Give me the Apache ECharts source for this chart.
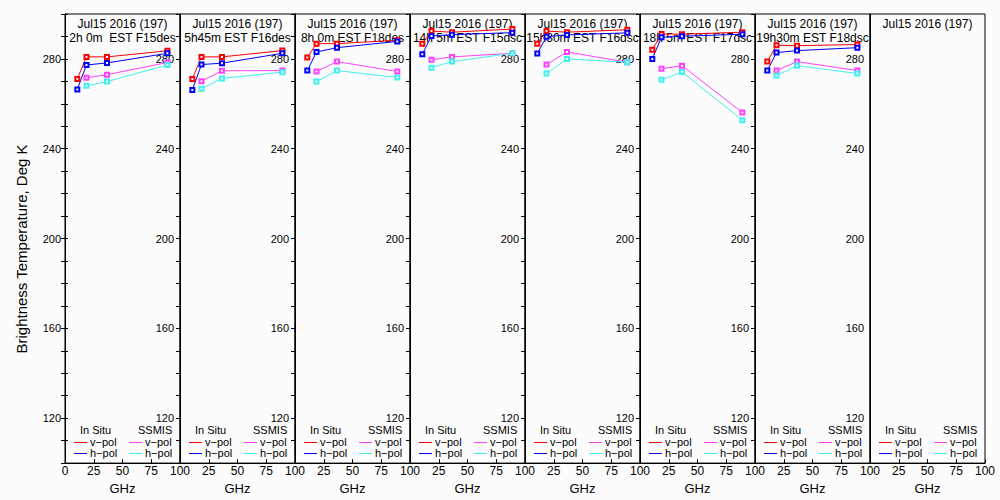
<!DOCTYPE html>
<html>
<head>
<meta charset="utf-8">
<script src="https://cdn.jsdelivr.net/npm/echarts@6/dist/echarts.min.js"></script>
<style>
html,body{margin:0;padding:0;background:#fcfcfc;}
#chart{width:1000px;height:500px;}
</style>
</head>
<body>
<div id="chart"></div>
<script>
// ---- data ----
const inSituFreq = [10.7, 18.7, 36.5, 89.0];
const ssmisFreq = [18.7, 36.5, 89.0];
const dateLabel = 'Jul15 2016 (197)';
const timeLabels = ['2h 0m  EST F15des', '5h45m EST F16des', '8h 0m EST F18des', '14h 5m EST F15dsc',
                    '15h30m EST F16dsc', '18h 5m EST F17dsc', '19h30m EST F18dsc', ''];
const inSituV = [
  [271.1, 280.9, 280.9, 283.6],
  [271.1, 280.9, 280.9, 283.7],
  [280.6, 286.8, 286.8, 288.3],
  [286.8, 292.4, 291.9, 293.3],
  [286.8, 292.4, 291.9, 293.0],
  [284.1, 291.1, 291.0, 291.9],
  [278.8, 286.1, 285.9, 286.4],
  []
];
const inSituH = [
  [266.4, 277.3, 278.2, 282.5],
  [266.2, 277.5, 278.1, 282.5],
  [274.8, 283.1, 285.0, 287.8],
  [282.1, 290.2, 290.8, 291.7],
  [282.4, 289.9, 290.7, 291.6],
  [280.0, 289.6, 290.1, 291.0],
  [274.8, 282.8, 283.7, 285.0],
  []
];
const ssmisV = [
  [271.6, 273.0, 278.4],
  [270.1, 274.7, 274.8],
  [274.4, 278.8, 274.4],
  [279.6, 280.9, 282.5],
  [277.5, 283.1, 278.5],
  [275.6, 277.0, 256.1],
  [274.8, 278.8, 274.8],
  []
];
const ssmisH = [
  [268.0, 269.9, 277.3],
  [266.7, 271.3, 274.1],
  [269.9, 274.8, 271.7],
  [276.1, 278.8, 282.5],
  [273.5, 280.0, 278.5],
  [270.7, 274.2, 252.7],
  [272.6, 277.0, 273.5],
  []
];
const yLabelValues = [120, 160, 200, 240, 280];
const yTickValues = [100, 110, 120, 130, 140, 150, 160, 170, 180, 190, 200, 210, 220, 230, 240, 250, 260, 270, 280, 290, 300];
const seriesColors = {inSituV: '#ff0000', inSituH: '#0000ff', ssmisV: '#ff40ff', ssmisH: '#40f0f0'};

// ---- layout ----
const FONT = '"Liberation Sans", Arial, sans-serif';
const nPanels = 8;
const panelLeft = 65, panelW = 115, panelTop = 14, panelH = 450;

const grids = [], xAxes = [], yAxes = [], series = [], graphics = [];

function pairs(xs, ys) { return ys.map((v, j) => [xs[j], v]); }

for (let i = 0; i < nPanels; i++) {
  const L = panelLeft + panelW * i;
  grids.push({left: L, top: panelTop, width: panelW, height: panelH, show: true,
              borderColor: '#000', borderWidth: 1, backgroundColor: 'transparent'});
  xAxes.push({
    gridIndex: i, type: 'value', min: 0, max: 100, interval: 25,
    axisLine: {show: true, lineStyle: {color: '#000', width: 1}},
    axisTick: {show: true, inside: true, length: 4, lineStyle: {color: '#000'}},
    axisLabel: {showMinLabel: i === 0, margin: 2, color: '#000', fontSize: 12, fontFamily: FONT},
    splitLine: {show: false},
    name: 'GHz', nameLocation: 'middle', nameGap: 15,
    nameTextStyle: {color: '#000', fontSize: 13, fontFamily: FONT}
  });
  const rightIdx = yAxes.length;
  yAxes.push({
    gridIndex: i, type: 'value', position: 'right', min: 100, max: 300, interval: 10,
    axisLine: {show: true, lineStyle: {color: '#000'}},
    axisTick: {show: i < 7, inside: true, length: 4, customValues: yTickValues, lineStyle: {color: '#000'}},
    axisLabel: {show: i < 7, inside: true, margin: 6, customValues: yLabelValues,
                color: '#000', fontSize: 11, fontFamily: FONT},
    splitLine: {show: false}
  });
  if (i === 0) {
    yAxes.push({
      gridIndex: i, type: 'value', position: 'left', min: 100, max: 300, interval: 10,
      axisLine: {show: true, lineStyle: {color: '#000'}},
      axisTick: {show: true, inside: false, length: 4, customValues: yLabelValues, lineStyle: {color: '#000'}},
      axisLabel: {show: true, margin: 4, customValues: yLabelValues, color: '#000', fontSize: 11, fontFamily: FONT},
      splitLine: {show: false}
    });
    yAxes.push({
      gridIndex: i, type: 'value', position: 'left', min: 100, max: 300, interval: 10,
      axisLine: {show: false},
      axisTick: {show: true, inside: true, length: 3, customValues: yTickValues, lineStyle: {color: '#000'}},
      axisLabel: {show: false},
      splitLine: {show: false}
    });
  }
  const mk = (name, xs, ys, color) => ({
    name: name, type: 'line', xAxisIndex: i, yAxisIndex: rightIdx,
    data: pairs(xs, ys), symbol: 'emptyRect', symbolSize: 4, showSymbol: true,
    lineStyle: {color: color, width: 1}, itemStyle: {color: color, borderWidth: 1},
    animation: false, silent: true, z: 3
  });
  series.push(mk('In Situ v-pol', inSituFreq, inSituV[i], seriesColors.inSituV));
  series.push(mk('In Situ h-pol', inSituFreq, inSituH[i], seriesColors.inSituH));
  series.push(mk('SSMIS v-pol', ssmisFreq, ssmisV[i], seriesColors.ssmisV));
  series.push(mk('SSMIS h-pol', ssmisFreq, ssmisH[i], seriesColors.ssmisH));

  // titles
  const cx = L + panelW / 2;
  graphics.push({type: 'text', x: cx, y: 24, z: 1,
    style: {text: dateLabel, fill: '#000', fontSize: 12, fontFamily: FONT, align: 'center', verticalAlign: 'middle'}});
  if (timeLabels[i]) {
    graphics.push({type: 'text', x: cx, y: 38, z: 1,
      style: {text: timeLabels[i], fill: '#000', fontSize: 12, fontFamily: FONT, align: 'center', verticalAlign: 'middle'}});
  }
  // legend block
  const t = (x, y, s) => ({type: 'text', x: x, y: y, z: 1,
    style: {text: s, fill: '#000', fontSize: 11, fontFamily: FONT, align: 'left', verticalAlign: 'middle'}});
  const ln = (x1, x2, y, c) => ({type: 'line', z: 1, shape: {x1: x1, y1: y, x2: x2, y2: y}, style: {stroke: c, lineWidth: 1}});
  graphics.push(t(L + 15, 430, 'In Situ'));
  graphics.push(t(L + 73, 430, 'SSMIS'));
  graphics.push(ln(L + 9, L + 22, 442.5, seriesColors.inSituV));
  graphics.push(t(L + 25, 442, 'v\u2212pol'));
  graphics.push(ln(L + 9, L + 22, 453.5, seriesColors.inSituH));
  graphics.push(t(L + 25, 453, 'h\u2212pol'));
  graphics.push(ln(L + 64, L + 77, 442.5, seriesColors.ssmisV));
  graphics.push(t(L + 80, 442, 'v\u2212pol'));
  graphics.push(ln(L + 64, L + 77, 453.5, seriesColors.ssmisH));
  graphics.push(t(L + 80, 453, 'h\u2212pol'));
}
graphics.push({type: 'text', x: 21, y: 249, rotation: Math.PI / 2,
  style: {text: 'Brightness Temperature, Deg K', fill: '#000', fontSize: 15, fontFamily: FONT,
          align: 'center', verticalAlign: 'middle'}});

const chart = echarts.init(document.getElementById('chart'), null, {renderer: 'svg'});
chart.setOption({
  backgroundColor: '#fcfcfc',
  animation: false,
  grid: grids,
  xAxis: xAxes,
  yAxis: yAxes,
  series: series,
  graphic: graphics
});
</script>
</body>
</html>
